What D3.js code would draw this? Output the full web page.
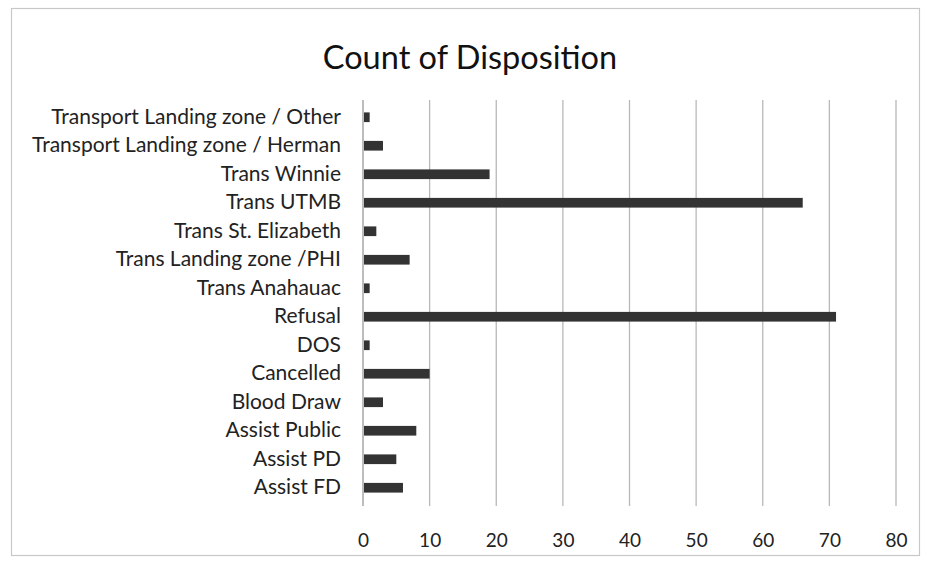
<!DOCTYPE html>
<html><head><meta charset="utf-8">
<script src="https://cdn.jsdelivr.net/npm/d3@7"></script>
<style>body{margin:0;background:#fff}svg{display:block}text{font-family:Lato,"Open Sans",sans-serif}</style>
</head><body>
<svg id="c" width="925" height="561"></svg>
<script>
const categories = ["Transport Landing zone / Other","Transport Landing zone / Herman","Trans Winnie","Trans UTMB","Trans St. Elizabeth","Trans Landing zone /PHI","Trans Anahauac","Refusal","DOS","Cancelled","Blood Draw","Assist Public","Assist PD","Assist FD"];
const counts = [1,3,19,66,2,7,1,71,1,10,3,8,5,6];
const xTicks = [0,10,20,30,40,50,60,70,80];
const title = "Count of Disposition";

const svg = d3.select("#c");
// frame
svg.append("rect").attr("x",11.5).attr("y",8.5).attr("width",908).attr("height",547)
  .attr("fill","none").attr("stroke","#c8c8c8").attr("stroke-width",1.2);

const x = d3.scaleLinear().domain([0,80]).range([363,896]);
const y = d3.scaleBand().domain(categories).range([103,502]).paddingInner(0.66).paddingOuter(0.33);

// gridlines
svg.append("g").selectAll("line").data(xTicks).join("line")
  .attr("x1",d=>x(d)).attr("x2",d=>x(d)).attr("y1",100).attr("y2",506)
  .attr("stroke",d=>d===0?"#9a9a9a":"#b8b8b8").attr("stroke-width",1.3);

// bars
svg.append("g").selectAll("rect").data(categories).join("rect")
  .attr("x",x(0)+1).attr("y",d=>y(d)).attr("height",y.bandwidth())
  .attr("width",(d,i)=>Math.max(0,x(counts[i])-x(0)-1)).attr("fill","#333");

// category labels
const yAxis = d3.axisLeft(y).tickSize(0).tickPadding(22);
const gy = svg.append("g").attr("transform","translate(363,0)").call(yAxis);
gy.select(".domain").remove();
gy.selectAll("text").attr("font-size",21).attr("fill","#222").style("font-family","Lato, sans-serif");

// x tick labels
const xAxis = d3.axisBottom(x).tickValues(xTicks).tickSize(0).tickPadding(0);
const gx = svg.append("g").attr("transform","translate(0,533)").call(xAxis);
gx.select(".domain").remove();
gx.selectAll("text").attr("font-size",19).attr("fill","#222").style("font-family","Lato, sans-serif");

svg.append("text").attr("x",470).attr("y",69).attr("text-anchor","middle")
  .attr("font-size",32.5).attr("fill","#111").text(title);
</script>
</body></html>
